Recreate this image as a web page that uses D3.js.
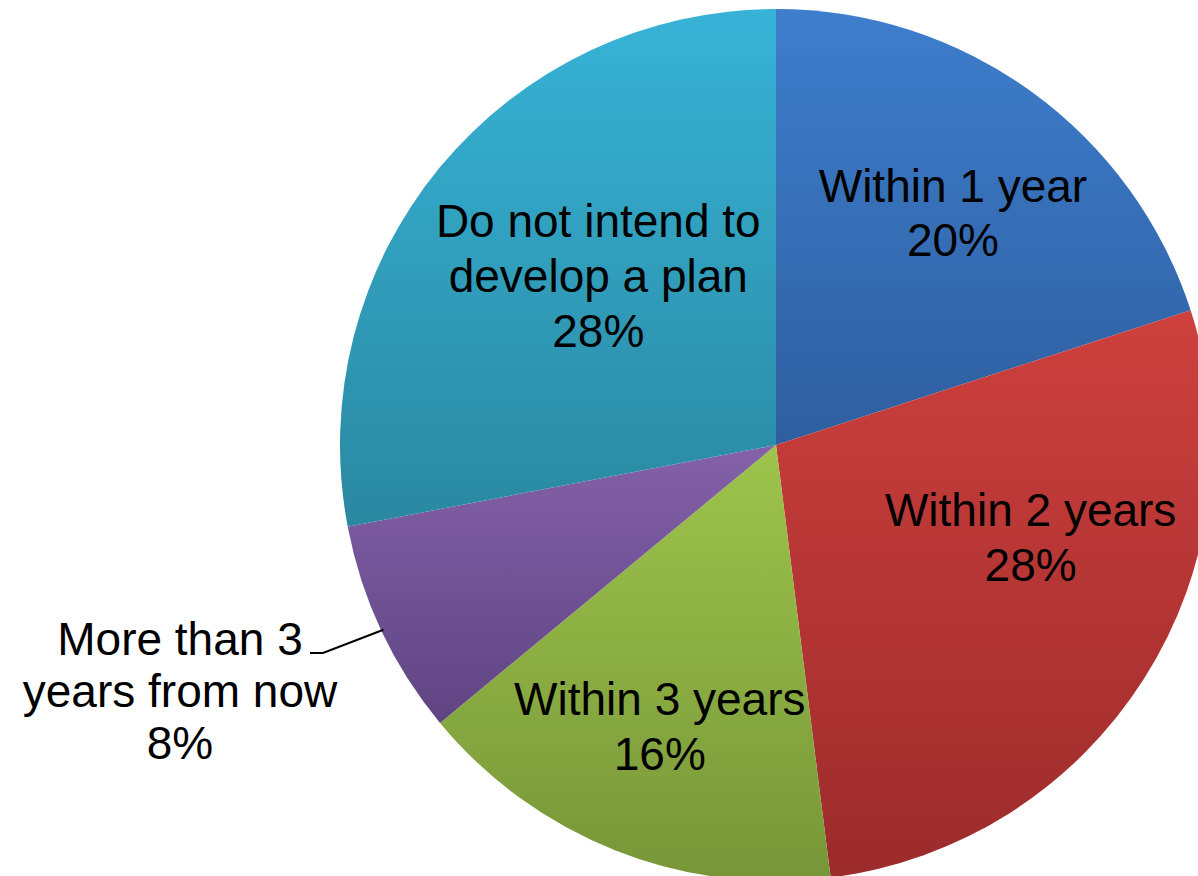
<!DOCTYPE html>
<html>
<head>
<meta charset="utf-8">
<script src="https://cdn.jsdelivr.net/npm/d3@7"></script>
<style>
  html, body { margin: 0; padding: 0; background: #ffffff; overflow: hidden; }
  svg { display: block; }
  text { font-family: "Liberation Sans", Arial, sans-serif; fill: #000; }
</style>
</head>
<body>
<svg id="chart" width="1198" height="876"></svg>
<script>
// Timeline for developing a plan (share of respondents)
const categories = [
  "Within 1 year",
  "Within 2 years",
  "Within 3 years",
  "More than 3 years from now",
  "Do not intend to develop a plan"
];
const shares = [20, 28, 16, 8, 28];

// Label text lines per slice
const labelLines = [
  ["Within 1 year", "20%"],
  ["Within 2 years", "28%"],
  ["Within 3 years", "16%"],
  ["More than 3", "years from now", "8%"],
  ["Do not intend to", "develop a plan", "28%"]
];

// Slice fills: light (top) to dark (bottom)
const gradientStops = [
  ["#3e7ecd", "#2e5e9f"],
  ["#cd403d", "#9c2b2b"],
  ["#9ec44c", "#779638"],
  ["#8461a9", "#5f4482"],
  ["#37b3d7", "#2a88a0"]
];

const width = 1198, height = 876;
const cx = 776, cy = 445, radius = 436;

const svg = d3.select("#chart");
const defs = svg.append("defs");

gradientStops.forEach((stops, i) => {
  const g = defs.append("linearGradient")
    .attr("id", "slice-grad-" + i)
    .attr("x1", 0).attr("y1", 0).attr("x2", 0).attr("y2", 1);
  g.append("stop").attr("offset", "0%").attr("stop-color", stops[0]);
  g.append("stop").attr("offset", "100%").attr("stop-color", stops[1]);
});

const pie = d3.pie().sort(null).value(d => d);
const arcs = pie(shares);
const arc = d3.arc().innerRadius(0).outerRadius(radius);

const root = svg.append("g").attr("transform", `translate(${cx},${cy})`);

root.selectAll("path.slice")
  .data(arcs)
  .enter()
  .append("path")
  .attr("class", "slice")
  .attr("d", arc)
  .attr("fill", (d, i) => `url(#slice-grad-${i})`);

// Label placement: polar position (angle in degrees clockwise from 12 o'clock, distance from centre)
const labelPolar = [
  { angle: 37.3, dist: 292, gap: 54 },
  { angle: 110, dist: 271, gap: 55 },
  { angle: 202.4, dist: 305, gap: 55 },
  null,
  { angle: 313.5, dist: 245, gap: 55 }
];
const fontSize = 46;

const labels = svg.append("g").attr("class", "labels");

arcs.forEach((a, i) => {
  const lines = labelLines[i];
  let x, y, gap;
  if (labelPolar[i]) {
    const t = labelPolar[i].angle * Math.PI / 180;
    x = cx + labelPolar[i].dist * Math.sin(t);
    y = cy - labelPolar[i].dist * Math.cos(t);
    gap = labelPolar[i].gap;
  } else {
    // outside label with a leader line into the slice
    x = 180;
    y = 691;
    gap = 52;
    const mid = (a.startAngle + a.endAngle) / 2;
    const ex = cx + radius * 0.995 * Math.sin(mid);
    const ey = cy - radius * 0.995 * Math.cos(mid);
    svg.append("polyline")
      .attr("points", `310,653 323,653 ${ex},${ey}`)
      .attr("fill", "none")
      .attr("stroke", "#000")
      .attr("stroke-width", 2);
  }
  const t = labels.append("text")
    .attr("text-anchor", "middle")
    .attr("font-size", fontSize);
  const top = y - (lines.length - 1) * gap / 2;
  lines.forEach((ln, k) => {
    t.append("tspan")
      .attr("x", x)
      .attr("y", top + k * gap)
      .attr("dominant-baseline", "central")
      .text(ln);
  });
});
</script>
</body>
</html>
